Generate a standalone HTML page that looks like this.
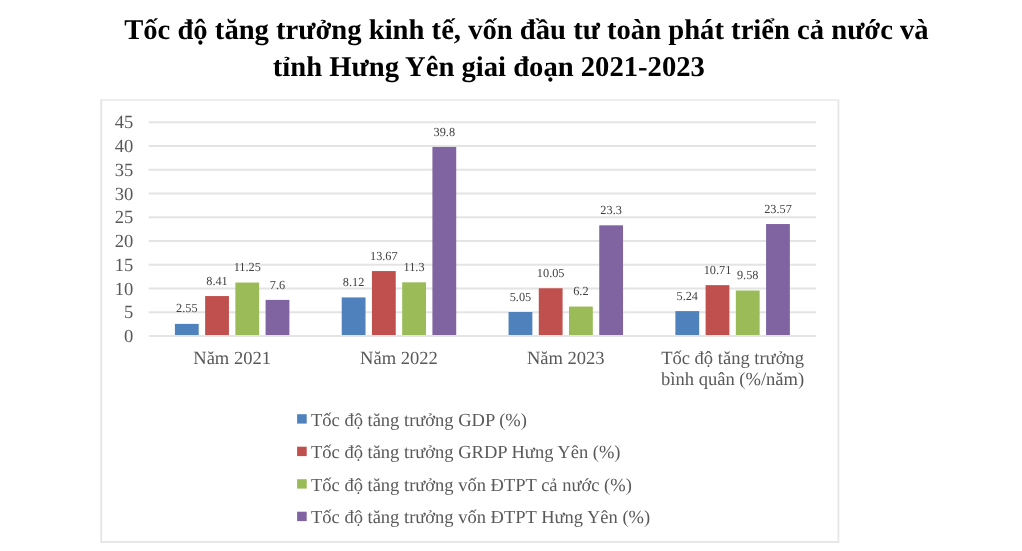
<!DOCTYPE html>
<html lang="vi"><head><meta charset="utf-8"><title>Tốc độ tăng trưởng</title>
<style>
html,body{margin:0;padding:0;background:#fff}
body{width:1022px;height:551px;overflow:hidden}
svg{display:block}
text{font-family:"Liberation Serif","Times New Roman",serif;text-rendering:geometricPrecision}
.t{font-weight:bold;font-size:28.63px;fill:#000}
.a{font-size:18.55px;fill:#595959}
.d{font-size:12.3px;fill:#404040}
.l{font-size:18.5px}
</style></head><body>
<svg width="1022" height="551" viewBox="0 0 1022 551">
<rect x="0" y="0" width="1022" height="551" fill="#fff"/>
<text class="t" x="124.2" y="39">Tốc độ tăng trưởng kinh tế, vốn đầu tư toàn phát triển cả nước và</text>
<text class="t" x="272.8" y="76">tỉnh Hưng Yên giai đoạn 2021-2023</text>
<rect x="101.2" y="100.2" width="737.2" height="441.8" fill="#fff" stroke="#e5e5e5" stroke-width="1.8"/>
<line x1="102.1" x2="837.5" y1="100.2" y2="100.2" stroke="#eeeeee" stroke-width="1.8"/>

<text class="a" x="133.3" y="342.10" text-anchor="end">0</text>
<line x1="148.7" x2="816.0" y1="312.25" y2="312.25" stroke="#e4e4e4" stroke-width="2"/>
<text class="a" x="133.3" y="318.35" text-anchor="end">5</text>
<line x1="148.7" x2="816.0" y1="288.50" y2="288.50" stroke="#e4e4e4" stroke-width="2"/>
<text class="a" x="133.3" y="294.60" text-anchor="end">10</text>
<line x1="148.7" x2="816.0" y1="264.75" y2="264.75" stroke="#e4e4e4" stroke-width="2"/>
<text class="a" x="133.3" y="270.85" text-anchor="end">15</text>
<line x1="148.7" x2="816.0" y1="241.00" y2="241.00" stroke="#e4e4e4" stroke-width="2"/>
<text class="a" x="133.3" y="247.10" text-anchor="end">20</text>
<line x1="148.7" x2="816.0" y1="217.25" y2="217.25" stroke="#e4e4e4" stroke-width="2"/>
<text class="a" x="133.3" y="223.35" text-anchor="end">25</text>
<line x1="148.7" x2="816.0" y1="193.50" y2="193.50" stroke="#e4e4e4" stroke-width="2"/>
<text class="a" x="133.3" y="199.60" text-anchor="end">30</text>
<line x1="148.7" x2="816.0" y1="169.75" y2="169.75" stroke="#e4e4e4" stroke-width="2"/>
<text class="a" x="133.3" y="175.85" text-anchor="end">35</text>
<line x1="148.7" x2="816.0" y1="146.00" y2="146.00" stroke="#e4e4e4" stroke-width="2"/>
<text class="a" x="133.3" y="152.10" text-anchor="end">40</text>
<line x1="148.7" x2="816.0" y1="122.25" y2="122.25" stroke="#e4e4e4" stroke-width="2"/>
<text class="a" x="133.3" y="128.35" text-anchor="end">45</text>
<rect x="174.90" y="323.89" width="23.8" height="12.11" fill="#4f81bd"/>
<text class="d" x="186.80" y="312.49" text-anchor="middle">2.55</text>
<rect x="205.13" y="296.05" width="23.8" height="39.95" fill="#c0504d"/>
<text class="d" x="217.03" y="284.65" text-anchor="middle">8.41</text>
<rect x="235.36" y="282.56" width="23.8" height="53.44" fill="#9bbb59"/>
<text class="d" x="247.26" y="271.16" text-anchor="middle">11.25</text>
<rect x="265.59" y="299.90" width="23.8" height="36.10" fill="#8064a2"/>
<text class="d" x="277.49" y="288.50" text-anchor="middle">7.6</text>
<text class="a" x="232.11" y="364.40" text-anchor="middle">Năm 2021</text>
<rect x="341.72" y="297.43" width="23.8" height="38.57" fill="#4f81bd"/>
<text class="d" x="353.62" y="286.03" text-anchor="middle">8.12</text>
<rect x="371.95" y="271.07" width="23.8" height="64.93" fill="#c0504d"/>
<text class="d" x="383.85" y="259.67" text-anchor="middle">13.67</text>
<rect x="402.18" y="282.32" width="23.8" height="53.68" fill="#9bbb59"/>
<text class="d" x="414.08" y="270.93" text-anchor="middle">11.3</text>
<rect x="432.41" y="146.95" width="23.8" height="189.05" fill="#8064a2"/>
<text class="d" x="444.31" y="135.55" text-anchor="middle">39.8</text>
<text class="a" x="398.94" y="364.40" text-anchor="middle">Năm 2022</text>
<rect x="508.55" y="312.01" width="23.8" height="23.99" fill="#4f81bd"/>
<text class="d" x="520.45" y="300.61" text-anchor="middle">5.05</text>
<rect x="538.78" y="288.26" width="23.8" height="47.74" fill="#c0504d"/>
<text class="d" x="550.68" y="276.86" text-anchor="middle">10.05</text>
<rect x="569.01" y="306.55" width="23.8" height="29.45" fill="#9bbb59"/>
<text class="d" x="580.91" y="295.15" text-anchor="middle">6.2</text>
<rect x="599.24" y="225.32" width="23.8" height="110.67" fill="#8064a2"/>
<text class="d" x="611.14" y="213.92" text-anchor="middle">23.3</text>
<text class="a" x="565.76" y="364.40" text-anchor="middle">Năm 2023</text>
<rect x="675.38" y="311.11" width="23.8" height="24.89" fill="#4f81bd"/>
<text class="d" x="687.27" y="299.71" text-anchor="middle">5.24</text>
<rect x="705.61" y="285.13" width="23.8" height="50.87" fill="#c0504d"/>
<text class="d" x="717.50" y="273.73" text-anchor="middle">10.71</text>
<rect x="735.84" y="290.50" width="23.8" height="45.51" fill="#9bbb59"/>
<text class="d" x="747.74" y="279.10" text-anchor="middle">9.58</text>
<rect x="766.07" y="224.04" width="23.8" height="111.96" fill="#8064a2"/>
<text class="d" x="777.97" y="212.64" text-anchor="middle">23.57</text>
<text class="a" x="732.59" y="364.40" text-anchor="middle">Tốc độ tăng trưởng</text>
<text class="a" x="732.59" y="385.10" text-anchor="middle">bình quân (%/năm)</text>
<line x1="148.7" x2="816.0" y1="336.00" y2="336.00" stroke="#e4e4e4" stroke-width="2"/>
<rect x="297.1" y="414.20" width="9.6" height="9.4" fill="#4f81bd"/>
<text class="a l" x="311" y="426">Tốc độ tăng trưởng GDP (%)</text>
<rect x="297.1" y="446.70" width="9.6" height="9.4" fill="#c0504d"/>
<text class="a l" x="311" y="458">Tốc độ tăng trưởng GRDP Hưng Yên (%)</text>
<rect x="297.1" y="479.20" width="9.6" height="9.4" fill="#9bbb59"/>
<text class="a l" x="311" y="491">Tốc độ tăng trưởng vốn ĐTPT cả nước (%)</text>
<rect x="297.1" y="511.70" width="9.6" height="9.4" fill="#8064a2"/>
<text class="a l" x="311" y="523">Tốc độ tăng trưởng vốn ĐTPT Hưng Yên (%)</text>
</svg></body></html>
